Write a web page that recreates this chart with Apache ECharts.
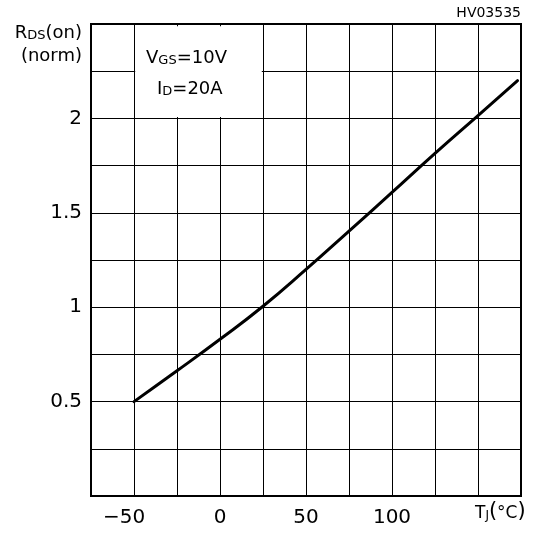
<!DOCTYPE html>
<html>
<head>
<meta charset="utf-8">
<script src="https://cdn.jsdelivr.net/npm/echarts@6/dist/echarts.min.js"></script>
<style>
html,body{margin:0;padding:0;background:#fff;}
#c{width:542px;height:536px;}
</style>
</head>
<body>
<div id="c"></div>
<script>
// Data
var tempC = [-50, -25, 0, 25, 50, 75, 100, 125, 150, 173];
var rdsNorm = [0.5, 0.663, 0.83, 1.005, 1.2, 1.403, 1.608, 1.815, 2.015, 2.2];
var xTickLabels = [-50, 0, 50, 100];
var yTickLabels = [0.5, 1, 1.5, 2];
var boxX = [-50, 25];
var boxY = [2, 2.5];

var FONT = 'DejaVu Sans';
var chart = echarts.init(document.getElementById('c'), null, {renderer: 'canvas'});

var seriesData = tempC.map(function (t, i) { return [t, rdsNorm[i]]; });

function tok(size, lh) {
  return {fontFamily: FONT, fontSize: size, fontWeight: 'normal', color: '#000', verticalAlign: 'bottom', lineHeight: lh || 20};
}

chart.setOption({
  animation: false,
  backgroundColor: '#fff',
  grid: {
    left: 91, top: 24, width: 430, height: 472,
    show: true, borderColor: '#000', borderWidth: 2, backgroundColor: 'transparent'
  },
  xAxis: {
    type: 'value', min: -75, max: 175, interval: 25,
    axisLine: {show: false}, axisTick: {show: false},
    splitLine: {show: true, lineStyle: {color: '#000', width: 1}},
    axisLabel: {
      margin: 12, color: '#000', fontFamily: FONT, fontSize: 20,
      formatter: function (v) {
        if (xTickLabels.indexOf(v) < 0) return '';
        if (v < 0) return '{neg|\u2212' + Math.abs(v) + '}';
        return String(v);
      },
      rich: {neg: {fontFamily: FONT, fontSize: 20, color: '#000', padding: [0, 20, 0, 0]}}
    }
  },
  yAxis: {
    type: 'value', min: 0, max: 2.5, interval: 0.25,
    axisLine: {show: false}, axisTick: {show: false},
    splitLine: {show: true, lineStyle: {color: '#000', width: 1}},
    axisLabel: {
      margin: 9, color: '#000', fontFamily: FONT, fontSize: 20,
      formatter: function (v) {
        for (var i = 0; i < yTickLabels.length; i++) {
          if (Math.abs(yTickLabels[i] - v) < 1e-9) return String(yTickLabels[i]);
        }
        return '';
      }
    }
  },
  title: [
    {text: '{b|R}{s|DS}{b|(on)}', right: 460, top: 22, padding: 0,
     textStyle: {fontWeight: 'normal', rich: {b: tok(18), s: tok(13)}}},
    {text: '(norm)', right: 460, top: 47, padding: 0,
     textStyle: {fontFamily: FONT, fontSize: 18, fontWeight: 'normal', color: '#000'}},
    {text: 'HV03535', right: 21, top: 6, padding: 0,
     textStyle: {fontFamily: FONT, fontSize: 14, fontWeight: 'normal', color: '#000'}},
    {text: '{b|T}{s|J}{p|(}{b|°C}{p|)}', left: 475, top: 500, padding: 0,
     textStyle: {fontWeight: 'normal', rich: {b: tok(17, 22), s: tok(12, 22), p: tok(21, 22)}}},
    {text: '{b|V}{s|GS}{b|=10V}', left: 146, top: 47, padding: 0,
     textStyle: {fontWeight: 'normal', rich: {b: tok(18), s: tok(13)}}},
    {text: '{b|I}{s|D}{b|=20A}', left: 157, top: 78, padding: 0,
     textStyle: {fontWeight: 'normal', rich: {b: tok(18), s: tok(13)}}}
  ],
  series: [{
    type: 'line',
    data: seriesData,
    smooth: 0.5,
    showSymbol: false,
    lineStyle: {color: '#000', width: 3, cap: 'round'},
    clip: true,
    z: 3,
    markArea: {
      silent: true,
      itemStyle: {color: '#fff', borderWidth: 0},
      data: [[{coord: [boxX[0] + 0.7, boxY[0] + 0.007]}, {coord: [boxX[1] - 0.7, boxY[1] - 0.012]}]]
    }
  }]
});
</script>
</body>
</html>
